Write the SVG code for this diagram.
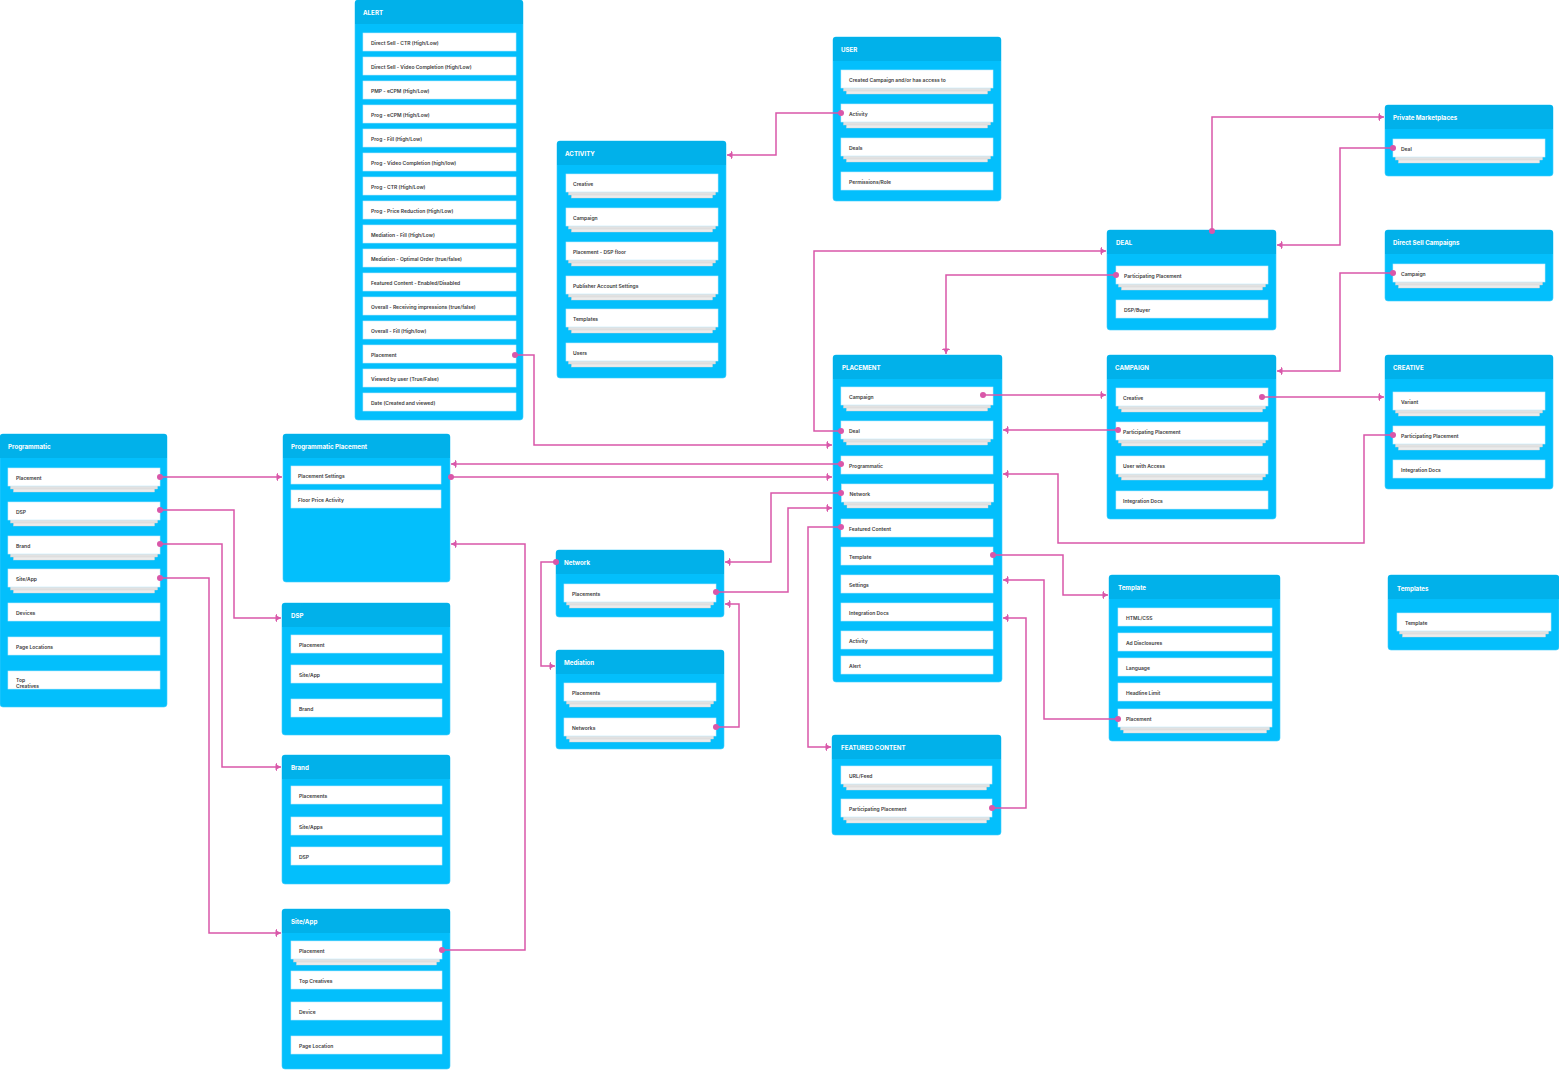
<svg xmlns="http://www.w3.org/2000/svg" width="1559" height="1070" viewBox="0 0 1559 1070">
<style>
  .bx{fill:#03bffc;stroke:#3fcdfb;stroke-width:0.6}
  .hd{fill:#01b1ea}
  .tt{font-family:Inter,"Liberation Sans",sans-serif;font-weight:700;font-size:6.2px;fill:#ffffff}
  .it{fill:#ffffff;stroke:#c4ecfb;stroke-width:0.6}
  .s1{fill:#e2e2e2;stroke:#cfcfcf;stroke-width:0.4}
  .s2{fill:#ececec;stroke:#d6d6d6;stroke-width:0.4}
  .lb{font-family:Inter,"Liberation Sans",sans-serif;font-weight:600;font-size:5px;fill:#3a3a3a}
  .cn{fill:none;stroke:#d957a9;stroke-width:1.5;marker-start:url(#dot);marker-end:url(#arr)}
</style>
<defs>
  <marker id="dot" viewBox="-4 -4 8 8" refX="0" refY="0" markerWidth="8" markerHeight="8" markerUnits="userSpaceOnUse" orient="auto">
    <circle r="3" fill="#d957a9"/>
  </marker>
  <marker id="arr" viewBox="-7 -5 8 10" refX="0" refY="0" markerWidth="8" markerHeight="10" markerUnits="userSpaceOnUse" orient="auto">
    <path d="M-5.5,-3 L0,0 L-5.5,3 Z" fill="#d957a9"/>
    <path d="M-4.5,-3.8 V3.8" stroke="#d957a9" stroke-width="1"/>
  </marker>
</defs>
<rect width="1559" height="1070" fill="#ffffff"/>

<!-- ALERT -->
<g id="alert">
  <rect class="bx" x="355" y="0" width="168" height="420" rx="3"/>
  <rect class="hd" x="355" y="0" width="168" height="24" rx="3"/><rect class="hd" x="355" y="12" width="168" height="12"/>
  <text class="tt" x="363" y="14.5">ALERT</text>
  <rect class="it" x="363" y="33" width="153" height="18"/><text class="lb" x="371" y="44.8">Direct Sell - CTR (High/Low)</text>
  <rect class="it" x="363" y="57" width="153" height="18"/><text class="lb" x="371" y="68.8">Direct Sell - Video Completion (High/Low)</text>
  <rect class="it" x="363" y="81" width="153" height="18"/><text class="lb" x="371" y="92.8">PMP - eCPM (High/Low)</text>
  <rect class="it" x="363" y="105" width="153" height="18"/><text class="lb" x="371" y="116.8">Prog - eCPM (High/Low)</text>
  <rect class="it" x="363" y="129" width="153" height="18"/><text class="lb" x="371" y="140.8">Prog - Fill (High/Low)</text>
  <rect class="it" x="363" y="153" width="153" height="18"/><text class="lb" x="371" y="164.8">Prog - Video Completion (high/low)</text>
  <rect class="it" x="363" y="177" width="153" height="18"/><text class="lb" x="371" y="188.8">Prog - CTR (High/Low)</text>
  <rect class="it" x="363" y="201" width="153" height="18"/><text class="lb" x="371" y="212.8">Prog - Price Reduction (High/Low)</text>
  <rect class="it" x="363" y="225" width="153" height="18"/><text class="lb" x="371" y="236.8">Mediation - Fill (High/Low)</text>
  <rect class="it" x="363" y="249" width="153" height="18"/><text class="lb" x="371" y="260.8">Mediation - Optimal Order (true/false)</text>
  <rect class="it" x="363" y="273" width="153" height="18"/><text class="lb" x="371" y="284.8">Featured Content - Enabled/Disabled</text>
  <rect class="it" x="363" y="297" width="153" height="18"/><text class="lb" x="371" y="308.8">Overall - Receiving impressions (true/false)</text>
  <rect class="it" x="363" y="321" width="153" height="18"/><text class="lb" x="371" y="332.8">Overall - Fill (High/low)</text>
  <rect class="it" x="363" y="345" width="153" height="18"/><text class="lb" x="371" y="356.8">Placement</text>
  <rect class="it" x="363" y="369" width="153" height="18"/><text class="lb" x="371" y="380.8">Viewed by user (True/False)</text>
  <rect class="it" x="363" y="393" width="153" height="18"/><text class="lb" x="371" y="404.8">Date (Created and viewed)</text>
</g>

<!-- Programmatic -->
<g id="programmatic">
  <rect class="bx" x="0" y="434" width="167" height="273" rx="3"/>
  <rect class="hd" x="0" y="434" width="167" height="24" rx="3"/><rect class="hd" x="0" y="446" width="167" height="12"/>
  <text class="tt" x="8" y="449">Programmatic</text>
  <rect class="s2" x="13.5" y="474" width="141" height="18"/><rect class="s1" x="10.5" y="471" width="147" height="18"/>
  <rect class="it" x="8" y="468" width="152" height="18"/><text class="lb" x="16" y="479.8">Placement</text>
  <rect class="s2" x="13.5" y="508" width="141" height="18"/><rect class="s1" x="10.5" y="505" width="147" height="18"/>
  <rect class="it" x="8" y="502" width="152" height="18"/><text class="lb" x="16" y="513.8">DSP</text>
  <rect class="s2" x="13.5" y="542" width="141" height="18"/><rect class="s1" x="10.5" y="539" width="147" height="18"/>
  <rect class="it" x="8" y="536" width="152" height="18"/><text class="lb" x="16" y="547.8">Brand</text>
  <rect class="s2" x="13.5" y="575" width="141" height="18"/><rect class="s1" x="10.5" y="572" width="147" height="18"/>
  <rect class="it" x="8" y="569" width="152" height="18"/><text class="lb" x="16" y="580.8">Site/App</text>
  <rect class="it" x="8" y="603" width="152" height="18"/><text class="lb" x="16" y="614.8">Devices</text>
  <rect class="it" x="8" y="637" width="152" height="18"/><text class="lb" x="16" y="648.8">Page Locations</text>
  <rect class="it" x="8" y="671" width="152" height="18"/><text class="lb" x="16" y="681.8">Top</text><text class="lb" x="16" y="688">Creatives</text>
</g>

<!-- Programmatic Placement -->
<g id="programmatic-placement">
  <rect class="bx" x="283" y="434" width="167" height="148" rx="3"/>
  <rect class="hd" x="283" y="434" width="167" height="24" rx="3"/><rect class="hd" x="283" y="446" width="167" height="12"/>
  <text class="tt" x="291" y="449">Programmatic Placement</text>
  <rect class="it" x="291" y="466" width="150" height="18"/><text class="lb" x="298" y="477.8">Placement Settings</text>
  <rect class="it" x="291" y="490" width="150" height="18"/><text class="lb" x="298" y="501.8">Floor Price Activity</text>
</g>

<!-- DSP -->
<g id="dsp">
  <rect class="bx" x="282" y="603" width="168" height="132" rx="3"/>
  <rect class="hd" x="282" y="603" width="168" height="24" rx="3"/><rect class="hd" x="282" y="615" width="168" height="12"/>
  <text class="tt" x="291" y="618">DSP</text>
  <rect class="it" x="291" y="635" width="151" height="18"/><text class="lb" x="299" y="646.8">Placement</text>
  <rect class="it" x="291" y="665" width="151" height="18"/><text class="lb" x="299" y="676.8">Site/App</text>
  <rect class="it" x="291" y="699" width="151" height="18"/><text class="lb" x="299" y="710.8">Brand</text>
</g>

<!-- Brand -->
<g id="brand">
  <rect class="bx" x="282" y="755" width="168" height="129" rx="3"/>
  <rect class="hd" x="282" y="755" width="168" height="24" rx="3"/><rect class="hd" x="282" y="767" width="168" height="12"/>
  <text class="tt" x="291" y="770">Brand</text>
  <rect class="it" x="291" y="786" width="151" height="18"/><text class="lb" x="299" y="797.8">Placements</text>
  <rect class="it" x="291" y="817" width="151" height="18"/><text class="lb" x="299" y="828.8">Site/Apps</text>
  <rect class="it" x="291" y="847" width="151" height="18"/><text class="lb" x="299" y="858.8">DSP</text>
</g>

<!-- Site/App -->
<g id="site-app">
  <rect class="bx" x="282" y="909" width="168" height="160" rx="3"/>
  <rect class="hd" x="282" y="909" width="168" height="24" rx="3"/><rect class="hd" x="282" y="921" width="168" height="12"/>
  <text class="tt" x="291" y="924">Site/App</text>
  <rect class="s2" x="296.5" y="947" width="140" height="18"/><rect class="s1" x="293.5" y="944" width="146" height="18"/>
  <rect class="it" x="291" y="941" width="151" height="18"/><text class="lb" x="299" y="952.8">Placement</text>
  <rect class="it" x="291" y="971" width="151" height="18"/><text class="lb" x="299" y="982.8">Top Creatives</text>
  <rect class="it" x="291" y="1002" width="151" height="18"/><text class="lb" x="299" y="1013.8">Device</text>
  <rect class="it" x="291" y="1036" width="151" height="18"/><text class="lb" x="299" y="1047.8">Page Location</text>
</g>

<!-- ACTIVITY -->
<g id="activity">
  <rect class="bx" x="557" y="141" width="169" height="237" rx="3"/>
  <rect class="hd" x="557" y="141" width="169" height="24" rx="3"/><rect class="hd" x="557" y="153" width="169" height="12"/>
  <text class="tt" x="565" y="156">ACTIVITY</text>
  <rect class="s2" x="571.5" y="180" width="141" height="18"/><rect class="s1" x="568.5" y="177" width="147" height="18"/>
  <rect class="it" x="566" y="174" width="152" height="18"/><text class="lb" x="573" y="185.8">Creative</text>
  <rect class="s2" x="571.5" y="214" width="141" height="18"/><rect class="s1" x="568.5" y="211" width="147" height="18"/>
  <rect class="it" x="566" y="208" width="152" height="18"/><text class="lb" x="573" y="219.8">Campaign</text>
  <rect class="s2" x="571.5" y="248" width="141" height="18"/><rect class="s1" x="568.5" y="245" width="147" height="18"/>
  <rect class="it" x="566" y="242" width="152" height="18"/><text class="lb" x="573" y="253.8">Placement - DSP floor</text>
  <rect class="s2" x="571.5" y="282" width="141" height="18"/><rect class="s1" x="568.5" y="279" width="147" height="18"/>
  <rect class="it" x="566" y="276" width="152" height="18"/><text class="lb" x="573" y="287.8">Publisher Account Settings</text>
  <rect class="s2" x="571.5" y="315" width="141" height="18"/><rect class="s1" x="568.5" y="312" width="147" height="18"/>
  <rect class="it" x="566" y="309" width="152" height="18"/><text class="lb" x="573" y="320.8">Templates</text>
  <rect class="s2" x="571.5" y="349" width="141" height="18"/><rect class="s1" x="568.5" y="346" width="147" height="18"/>
  <rect class="it" x="566" y="343" width="152" height="18"/><text class="lb" x="573" y="354.8">Users</text>
</g>

<!-- USER -->
<g id="user">
  <rect class="bx" x="833" y="37" width="168" height="164" rx="3"/>
  <rect class="hd" x="833" y="37" width="168" height="24" rx="3"/><rect class="hd" x="833" y="49" width="168" height="12"/>
  <text class="tt" x="841" y="52">USER</text>
  <rect class="s2" x="846.5" y="76" width="141" height="18"/><rect class="s1" x="843.5" y="73" width="147" height="18"/>
  <rect class="it" x="841" y="70" width="152" height="18"/><text class="lb" x="849" y="81.8">Created Campaign and/or has access to</text>
  <rect class="s2" x="846.5" y="110" width="141" height="18"/><rect class="s1" x="843.5" y="107" width="147" height="18"/>
  <rect class="it" x="841" y="104" width="152" height="18"/><text class="lb" x="849" y="115.8">Activity</text>
  <rect class="s2" x="846.5" y="144" width="141" height="18"/><rect class="s1" x="843.5" y="141" width="147" height="18"/>
  <rect class="it" x="841" y="138" width="152" height="18"/><text class="lb" x="849" y="149.8">Deals</text>
  <rect class="it" x="841" y="172" width="152" height="18"/><text class="lb" x="849" y="183.8">Permissions/Role</text>
</g>

<!-- Network -->
<g id="network">
  <rect class="bx" x="556" y="550" width="168" height="67" rx="3"/>
  <rect class="hd" x="556" y="550" width="168" height="24" rx="3"/><rect class="hd" x="556" y="562" width="168" height="12"/>
  <text class="tt" x="564" y="565">Network</text>
  <rect class="s2" x="569.5" y="590" width="141" height="18"/><rect class="s1" x="566.5" y="587" width="147" height="18"/>
  <rect class="it" x="564" y="584" width="152" height="18"/><text class="lb" x="572" y="595.8">Placements</text>
</g>

<!-- Mediation -->
<g id="mediation">
  <rect class="bx" x="556" y="650" width="168" height="99" rx="3"/>
  <rect class="hd" x="556" y="650" width="168" height="24" rx="3"/><rect class="hd" x="556" y="662" width="168" height="12"/>
  <text class="tt" x="564" y="665">Mediation</text>
  <rect class="s2" x="569.5" y="689" width="141" height="18"/><rect class="s1" x="566.5" y="686" width="147" height="18"/>
  <rect class="it" x="564" y="683" width="152" height="18"/><text class="lb" x="572" y="694.8">Placements</text>
  <rect class="s2" x="569.5" y="724" width="141" height="18"/><rect class="s1" x="566.5" y="721" width="147" height="18"/>
  <rect class="it" x="564" y="718" width="152" height="18"/><text class="lb" x="572" y="729.8">Networks</text>
</g>

<!-- PLACEMENT -->
<g id="placement">
  <rect class="bx" x="833" y="355" width="169" height="327" rx="3"/>
  <rect class="hd" x="833" y="355" width="169" height="24" rx="3"/><rect class="hd" x="833" y="367" width="169" height="12"/>
  <text class="tt" x="842" y="370">PLACEMENT</text>
  <rect class="s2" x="846.5" y="393" width="141" height="18"/><rect class="s1" x="843.5" y="390" width="147" height="18"/>
  <rect class="it" x="841" y="387" width="152" height="18"/><text class="lb" x="849" y="398.8">Campaign</text>
  <rect class="s2" x="846.5" y="427" width="141" height="18"/><rect class="s1" x="843.5" y="424" width="147" height="18"/>
  <rect class="it" x="841" y="421" width="152" height="18"/><text class="lb" x="849" y="432.8">Deal</text>
  <rect class="it" x="841" y="456" width="152" height="18"/><text class="lb" x="849" y="467.8">Programmatic</text>
  <rect class="s2" x="847" y="490" width="141" height="18"/><rect class="s1" x="844" y="487" width="147" height="18"/>
  <rect class="it" x="841.5" y="484" width="152" height="18"/><text class="lb" x="849.5" y="495.8">Network</text>
  <rect class="it" x="841" y="519" width="152" height="18"/><text class="lb" x="849" y="530.8">Featured Content</text>
  <rect class="it" x="841" y="547" width="152" height="18"/><text class="lb" x="849" y="558.8">Template</text>
  <rect class="it" x="841" y="575" width="152" height="18"/><text class="lb" x="849" y="586.8">Settings</text>
  <rect class="it" x="841" y="603" width="152" height="18"/><text class="lb" x="849" y="614.8">Integration Docs</text>
  <rect class="it" x="841" y="631" width="152" height="18"/><text class="lb" x="849" y="642.8">Activity</text>
  <rect class="it" x="841" y="656" width="152" height="18"/><text class="lb" x="849" y="667.8">Alert</text>
</g>

<!-- FEATURED CONTENT -->
<g id="featured-content">
  <rect class="bx" x="832" y="735" width="169" height="100" rx="3"/>
  <rect class="hd" x="832" y="735" width="169" height="24" rx="3"/><rect class="hd" x="832" y="747" width="169" height="12"/>
  <text class="tt" x="841" y="750">FEATURED CONTENT</text>
  <rect class="s2" x="846.5" y="772" width="140" height="18"/><rect class="s1" x="843.5" y="769" width="146" height="18"/>
  <rect class="it" x="841" y="766" width="151" height="18"/><text class="lb" x="849" y="777.8">URL/Feed</text>
  <rect class="s2" x="846.5" y="805" width="140" height="18"/><rect class="s1" x="843.5" y="802" width="146" height="18"/>
  <rect class="it" x="841" y="799" width="151" height="18"/><text class="lb" x="849" y="810.8">Participating Placement</text>
</g>

<!-- DEAL -->
<g id="deal">
  <rect class="bx" x="1107" y="230" width="169" height="100" rx="3"/>
  <rect class="hd" x="1107" y="230" width="169" height="24" rx="3"/><rect class="hd" x="1107" y="242" width="169" height="12"/>
  <text class="tt" x="1116" y="245">DEAL</text>
  <rect class="s2" x="1121.5" y="272" width="141" height="18"/><rect class="s1" x="1118.5" y="269" width="147" height="18"/>
  <rect class="it" x="1116" y="266" width="152" height="18"/><text class="lb" x="1124" y="277.8">Participating Placement</text>
  <rect class="it" x="1116" y="300" width="152" height="18"/><text class="lb" x="1124" y="311.8">DSP/Buyer</text>
</g>

<!-- Private Marketplaces -->
<g id="private-marketplaces">
  <rect class="bx" x="1385" y="105" width="168" height="71" rx="3"/>
  <rect class="hd" x="1385" y="105" width="168" height="24" rx="3"/><rect class="hd" x="1385" y="117" width="168" height="12"/>
  <text class="tt" x="1393" y="120">Private Marketplaces</text>
  <rect class="s2" x="1398.5" y="145" width="141" height="18"/><rect class="s1" x="1395.5" y="142" width="147" height="18"/>
  <rect class="it" x="1393" y="139" width="152" height="18"/><text class="lb" x="1401" y="150.8">Deal</text>
</g>

<!-- Direct Sell Campaigns -->
<g id="direct-sell-campaigns">
  <rect class="bx" x="1385" y="230" width="168" height="71" rx="3"/>
  <rect class="hd" x="1385" y="230" width="168" height="24" rx="3"/><rect class="hd" x="1385" y="242" width="168" height="12"/>
  <text class="tt" x="1393" y="245">Direct Sell Campaigns</text>
  <rect class="s2" x="1398.5" y="270" width="141" height="18"/><rect class="s1" x="1395.5" y="267" width="147" height="18"/>
  <rect class="it" x="1393" y="264" width="152" height="18"/><text class="lb" x="1401" y="275.8">Campaign</text>
</g>

<!-- CAMPAIGN -->
<g id="campaign">
  <rect class="bx" x="1107" y="355" width="169" height="164" rx="3"/>
  <rect class="hd" x="1107" y="355" width="169" height="24" rx="3"/><rect class="hd" x="1107" y="367" width="169" height="12"/>
  <text class="tt" x="1115" y="370">CAMPAIGN</text>
  <rect class="s2" x="1121.5" y="394" width="141" height="18"/><rect class="s1" x="1118.5" y="391" width="147" height="18"/>
  <rect class="it" x="1116" y="388" width="152" height="18"/><text class="lb" x="1123" y="399.8">Creative</text>
  <rect class="s2" x="1121.5" y="428" width="141" height="18"/><rect class="s1" x="1118.5" y="425" width="147" height="18"/>
  <rect class="it" x="1116" y="422" width="152" height="18"/><text class="lb" x="1123" y="433.8">Participating Placement</text>
  <rect class="s2" x="1121.5" y="462" width="141" height="18"/><rect class="s1" x="1118.5" y="459" width="147" height="18"/>
  <rect class="it" x="1116" y="456" width="152" height="18"/><text class="lb" x="1123" y="467.8">User with Access</text>
  <rect class="it" x="1116" y="491" width="152" height="18"/><text class="lb" x="1123" y="502.8">Integration Docs</text>
</g>

<!-- CREATIVE -->
<g id="creative">
  <rect class="bx" x="1385" y="355" width="168" height="134" rx="3"/>
  <rect class="hd" x="1385" y="355" width="168" height="24" rx="3"/><rect class="hd" x="1385" y="367" width="168" height="12"/>
  <text class="tt" x="1393" y="370">CREATIVE</text>
  <rect class="s2" x="1398.5" y="398" width="141" height="18"/><rect class="s1" x="1395.5" y="395" width="147" height="18"/>
  <rect class="it" x="1393" y="392" width="152" height="18"/><text class="lb" x="1401" y="403.8">Variant</text>
  <rect class="s2" x="1398.5" y="432" width="141" height="18"/><rect class="s1" x="1395.5" y="429" width="147" height="18"/>
  <rect class="it" x="1393" y="426" width="152" height="18"/><text class="lb" x="1401" y="437.8">Participating Placement</text>
  <rect class="it" x="1393" y="460" width="152" height="18"/><text class="lb" x="1401" y="471.8">Integration Docs</text>
</g>

<!-- Template -->
<g id="template">
  <rect class="bx" x="1109" y="575" width="171" height="166" rx="3"/>
  <rect class="hd" x="1109" y="575" width="171" height="24" rx="3"/><rect class="hd" x="1109" y="587" width="171" height="12"/>
  <text class="tt" x="1118" y="590">Template</text>
  <rect class="it" x="1118" y="608" width="154" height="18"/><text class="lb" x="1126" y="619.8">HTML/CSS</text>
  <rect class="it" x="1118" y="633" width="154" height="18"/><text class="lb" x="1126" y="644.8">Ad Disclosures</text>
  <rect class="it" x="1118" y="658" width="154" height="18"/><text class="lb" x="1126" y="669.8">Language</text>
  <rect class="it" x="1118" y="683" width="154" height="18"/><text class="lb" x="1126" y="694.8">Headline Limit</text>
  <rect class="s2" x="1123.5" y="715" width="143" height="18"/><rect class="s1" x="1120.5" y="712" width="149" height="18"/>
  <rect class="it" x="1118" y="709" width="154" height="18"/><text class="lb" x="1126" y="720.8">Placement</text>
</g>

<!-- Templates -->
<g id="templates">
  <rect class="bx" x="1388" y="575" width="171" height="75" rx="3"/>
  <rect class="hd" x="1388" y="575" width="171" height="24" rx="3"/><rect class="hd" x="1388" y="587" width="171" height="12"/>
  <text class="tt" x="1397" y="590.5">Templates</text>
  <rect class="s2" x="1402.5" y="619" width="143" height="18"/><rect class="s1" x="1399.5" y="616" width="149" height="18"/>
  <rect class="it" x="1397" y="613" width="154" height="18"/><text class="lb" x="1405" y="624.8">Template</text>
</g>

<!-- Connectors: dot at the source field, arrowhead at the target -->
<g id="connectors">
  <path class="cn" d="M515,355 H534 V445 H832"/>
  <path class="cn" d="M160,477 H282"/>
  <path class="cn" d="M160,510 H234 V618 H281"/>
  <path class="cn" d="M160,544 H222 V767 H281"/>
  <path class="cn" d="M160,578 H209 V933 H281"/>
  <path class="cn" d="M442,950 H525 V544 H451"/>
  <path class="cn" d="M841,464 H451"/>
  <path class="cn" d="M451,477 H832"/>
  <path class="cn" d="M841,113 H776 V155 H727"/>
  <path class="cn" d="M841,431 H814 V251 H1106"/>
  <path class="cn" d="M1116,275 H946 V354"/>
  <path class="cn" d="M983,395 H1106"/>
  <path class="cn" d="M1118,430 H1003"/>
  <path class="cn" d="M1393,435 H1364 V543 H1058 V474 H1003"/>
  <path class="cn" d="M993,555 H1063 V595 H1108"/>
  <path class="cn" d="M1118,719 H1044 V580 H1003"/>
  <path class="cn" d="M992,808 H1026 V618 H1003"/>
  <path class="cn" d="M841,527 H808 V747 H831"/>
  <path class="cn" d="M841,493 H771 V562 H725"/>
  <path class="cn" d="M716,592 H788 V508 H832"/>
  <path class="cn" d="M716,727 H739 V604 H725"/>
  <path class="cn" d="M556,562 H541 V666 H555"/>
  <path class="cn" d="M1212,231 V117 H1384"/>
  <path class="cn" d="M1393,148 H1340 V245 H1277"/>
  <path class="cn" d="M1393,273 H1340 V371 H1277"/>
  <path class="cn" d="M1262,397 H1384"/>
</g>
</svg>
